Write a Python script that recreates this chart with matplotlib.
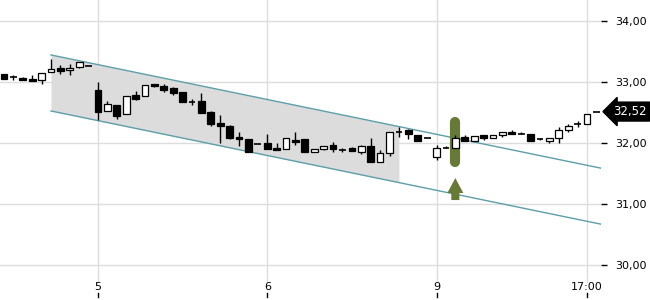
import numpy as np
import matplotlib.pyplot as plt

# hourly candles, index = bar number
opens = [33.13, 33.08, 33.07, 33.05, 33.04, 33.17, 33.24, 33.20, 33.25, 33.26,
         32.87, 32.53, 32.62, 32.48, 32.79, 32.78, 32.97, 32.94, 32.90, 32.84,
         32.68, 32.69, 32.51, 32.33, 32.29, 32.11, 32.07, 31.99, 32.00, 31.92,
         31.90, 32.05, 32.07, 31.85, 31.90, 31.98, 31.89, 31.92, 31.86, 31.96,
         31.69, 31.84, 32.19, 32.21, 32.14, 32.08, 31.78, 31.93, 31.93, 32.11,
         32.03, 32.13, 32.08, 32.14, 32.19, 32.16, 32.15, 32.07, 32.03, 32.08,
         32.22, 32.32, 32.32, 32.51]
highs = [33.13, 33.12, 33.09, 33.12, 33.16, 33.38, 33.28, 33.30, 33.33, 33.26,
         33.00, 32.69, 32.62, 32.78, 32.85, 32.96, 32.98, 32.97, 32.93, 32.84,
         32.72, 32.82, 32.53, 32.46, 32.30, 32.19, 32.07, 31.99, 32.15, 32.00,
         32.09, 32.19, 32.07, 31.90, 31.96, 32.02, 31.93, 31.94, 31.98, 32.08,
         31.89, 32.18, 32.27, 32.24, 32.14, 32.08, 31.97, 31.95, 32.14, 32.13,
         32.12, 32.13, 32.13, 32.19, 32.21, 32.18, 32.15, 32.08, 32.09, 32.26,
         32.31, 32.36, 32.48, 32.51]
lows = [33.06, 33.04, 33.04, 33.02, 32.98, 33.17, 33.13, 33.12, 33.23, 33.26,
        32.39, 32.53, 32.40, 32.48, 32.71, 32.78, 32.93, 32.84, 32.79, 32.68,
        32.62, 32.50, 32.28, 32.00, 32.07, 31.96, 31.85, 31.99, 31.90, 31.89,
        31.90, 31.97, 31.85, 31.85, 31.89, 31.85, 31.85, 31.88, 31.83, 31.69,
        31.69, 31.80, 32.11, 32.07, 32.04, 32.08, 31.73, 31.93, 31.93, 32.04,
        32.03, 32.06, 32.08, 32.11, 32.15, 32.15, 32.04, 32.06, 32.00, 32.00,
        32.18, 32.27, 32.32, 32.51]
closes = [33.06, 33.08, 33.04, 33.02, 33.16, 33.22, 33.18, 33.24, 33.33, 33.26,
          32.52, 32.64, 32.45, 32.78, 32.72, 32.96, 32.94, 32.87, 32.83, 32.68,
          32.68, 32.50, 32.31, 32.29, 32.09, 32.07, 31.85, 31.99, 31.90, 31.89,
          32.09, 32.02, 31.85, 31.90, 31.95, 31.90, 31.89, 31.88, 31.96, 31.69,
          31.84, 32.18, 32.19, 32.15, 32.04, 32.08, 31.93, 31.93, 32.09, 32.04,
          32.12, 32.08, 32.13, 32.19, 32.16, 32.16, 32.04, 32.07, 32.09, 32.21,
          32.28, 32.32, 32.48, 32.51]
last_price = 32.52

x_ticks = [10, 28, 46, 62]
x_labels = ["5", "6", "9", "17:00"]
y_ticks = [30, 31, 32, 33, 34]

# trend channel (start/end index, upper and lower values)
chan_x = [5, 63.56]
chan_upper = [33.448, 31.590]
chan_lower = [32.530, 30.672]
fill_end = 42

# buy signal
sig_x = 48
pill_top, pill_bot = 32.354, 31.698
arrow_tip, arrow_base, arrow_bot = 31.43, 31.185, 31.07

fig = plt.figure(figsize=(6.5, 3), dpi=100)
ax = fig.add_axes([0, 17 / 300, 601 / 650, 283 / 300])
ax.set_xlim(-0.421, 63.49)
ax.set_ylim(29.710, 34.349)

for s in ax.spines.values():
    s.set_visible(False)

for t in y_ticks:
    ax.axhline(t, color="#dddddd", lw=1, zorder=0)
for t in x_ticks:
    ax.axvline(t, color="#dddddd", lw=1, zorder=0)

# channel
cx = np.array(chan_x)
cu = np.array(chan_upper)
cl = np.array(chan_lower)
slope = (cu[1] - cu[0]) / (cx[1] - cx[0])
fx = np.array([cx[0], fill_end])
ax.fill_between(fx, cu[0] + slope * (fx - cx[0]), cl[0] + slope * (fx - cx[0]),
                color="#dcdcdc", lw=0, zorder=1)
ax.plot(cx, cu, color="#5b9fa9", lw=1, zorder=2)
ax.plot(cx, cl, color="#5b9fa9", lw=1, zorder=2)

# signal pill and arrow (behind the candles)
ax.plot([sig_x, sig_x], [pill_top, pill_bot], color="#667a35", lw=7.3,
        solid_capstyle="round", zorder=2.5)
hw, sw = 0.85, 0.43
ax.fill([sig_x, sig_x + hw, sig_x + sw, sig_x + sw, sig_x - sw, sig_x - sw, sig_x - hw],
        [arrow_tip, arrow_base, arrow_base, arrow_bot, arrow_bot, arrow_base, arrow_base],
        color="#667a35", lw=0, zorder=2.5)

# candles
w = 0.72
idx = np.arange(len(opens))
for i in idx:
    o, h, l, c = opens[i], highs[i], lows[i], closes[i]
    ax.vlines(i, l, h, color="black", lw=1, zorder=3)
    if abs(c - o) < 0.005:
        ax.hlines(o, i - w / 2, i + w / 2, color="black", lw=1.2, zorder=4)
    else:
        fc = "white" if c > o else "black"
        ax.bar(i, abs(c - o), bottom=min(o, c), width=w, color=fc,
               edgecolor="black", lw=0.9, zorder=4)

# y axis on right
ax.yaxis.tick_right()
ax.set_yticks(y_ticks)
ax.set_yticklabels([f"{v:.2f}".replace(".", ",") for v in y_ticks])
ax.tick_params(axis="y", length=4, width=1, pad=6, labelsize=8, colors="black")

# x labels above small tick marks
ax.set_xticks([])
for t, lab in zip(x_ticks, x_labels):
    ax.text(t, 0.004, lab, transform=ax.get_xaxis_transform(), ha="center",
            va="top", fontsize=8, clip_on=False)
    ax.plot([t, t], [-0.034, -0.048], transform=ax.get_xaxis_transform(),
            color="black", lw=1, clip_on=False)

# last price label
ax.annotate(f"{last_price:.2f}".replace(".", ","), xy=(1.0, last_price),
            xycoords=("axes fraction", "data"), xytext=(29, 0),
            textcoords="offset pixels", ha="center", va="center",
            fontsize=8.5, color="white", annotation_clip=False,
            bbox=dict(boxstyle="larrow,pad=0.25", fc="black", ec="black"))

fig.savefig("out.png", dpi=100)
